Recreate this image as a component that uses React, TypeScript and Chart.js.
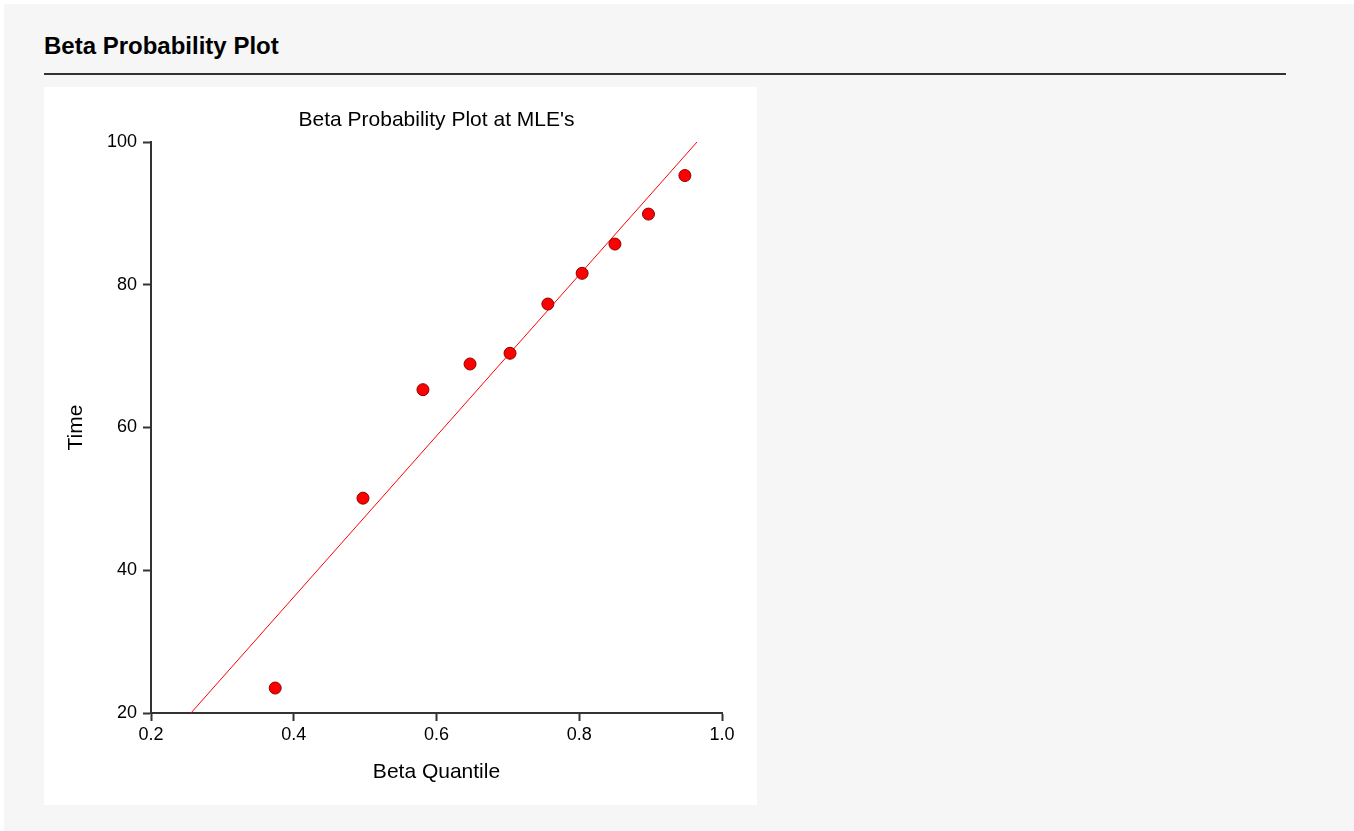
import React, { useEffect, useRef } from "react";
import { Chart, registerables } from "chart.js";

Chart.register(...registerables);

const quantiles: number[] = [0.374, 0.497, 0.581, 0.647, 0.703, 0.756, 0.804, 0.85, 0.897, 0.948];
const times: number[] = [23.5, 50.1, 65.3, 68.9, 70.4, 77.3, 81.6, 85.7, 89.9, 95.3];
const fitLineX: number[] = [0.256, 0.965];
const fitLineY: number[] = [20, 100];
const xTickRange = { min: 0.2, max: 1.0, step: 0.2 };
const yTickRange = { min: 20, max: 100, step: 20 };

const FONT = "'Liberation Sans', Arial, Helvetica, sans-serif";

function ProbabilityChart() {
  const ref = useRef<HTMLCanvasElement | null>(null);
  useEffect(() => {
    if (!ref.current) return;
    const chart = new Chart(ref.current, {
      type: "scatter",
      data: {
        datasets: [
          {
            type: "scatter",
            label: "Data",
            data: quantiles.map((q, i) => ({ x: q, y: times[i] })),
            pointRadius: 6,
            pointHoverRadius: 6,
            backgroundColor: "#ff0000",
            borderColor: "#8b0000",
            borderWidth: 1,
          },
          {
            type: "line",
            label: "Fit",
            data: fitLineX.map((q, i) => ({ x: q, y: fitLineY[i] })),
            borderColor: "#ff0000",
            borderWidth: 1,
            pointRadius: 0,
            fill: false,
          } as any,
        ],
      },
      options: {
        responsive: false,
        animation: false,
        events: [],
        layout: { padding: { left: 0, right: 35, top: 0, bottom: 0 } },
        plugins: {
          legend: { display: false },
          tooltip: { enabled: false },
          title: {
            display: true,
            text: "Beta Probability Plot at MLE's",
            fullSize: false,
            color: "#000",
            font: { family: FONT, size: 21, weight: "normal", lineHeight: 1.2 },
            padding: { top: 20.4, bottom: 9.4 },
          },
        },
        scales: {
          x: {
            type: "linear",
            min: xTickRange.min,
            max: xTickRange.max,
            afterFit: (s: any) => {
              s.height = 92;
            },
            grid: {
              drawOnChartArea: false,
              drawTicks: true,
              tickLength: 8,
              tickWidth: 2,
              tickColor: "#333",
            },
            border: { display: true, color: "#333", width: 2 },
            ticks: {
              stepSize: xTickRange.step,
              color: "#000",
              padding: 3,
              maxRotation: 0,
              font: { family: FONT, size: 18 },
              callback: (v: any) => Number(v).toFixed(1),
            },
            title: {
              display: true,
              text: "Beta Quantile",
              color: "#000",
              font: { family: FONT, size: 21, lineHeight: 1.2 },
              padding: { top: 0, bottom: 20.4 },
            },
          },
          y: {
            type: "linear",
            min: yTickRange.min,
            max: yTickRange.max,
            afterFit: (s: any) => {
              s.width = 107;
            },
            grid: {
              drawOnChartArea: false,
              drawTicks: true,
              tickLength: 8,
              tickWidth: 2,
              tickColor: "#333",
            },
            border: { display: true, color: "#333", width: 2 },
            ticks: {
              stepSize: yTickRange.step,
              color: "#000",
              padding: 6,
              font: { family: FONT, size: 18 },
            },
            title: {
              display: true,
              text: "Time",
              color: "#000",
              font: { family: FONT, size: 21, lineHeight: 1.2 },
              padding: { top: 19.9, bottom: 0 },
            },
          },
        },
      },
    });
    return () => chart.destroy();
  }, []);
  return <canvas ref={ref} width={713} height={718} style={{ display: "block" }} />;
}

export default function App() {
  return (
    <div
      style={{
        position: "absolute",
        left: 4,
        top: 4,
        width: 1350,
        height: 827,
        background: "#f6f6f6",
        fontFamily: FONT,
      }}
    >
      <div
        style={{
          position: "absolute",
          left: 40,
          top: 30,
          fontSize: 24,
          lineHeight: "24px",
          fontWeight: "bold",
          color: "#000",
          whiteSpace: "nowrap",
        }}
      >
        Beta Probability Plot
      </div>
      <div
        style={{
          position: "absolute",
          left: 40,
          top: 69,
          width: 1242,
          height: 2,
          background: "#333",
        }}
      />
      <div
        style={{
          position: "absolute",
          left: 40,
          top: 83,
          width: 713,
          height: 718,
          background: "#ffffff",
        }}
      >
        <ProbabilityChart />
      </div>
    </div>
  );
}
